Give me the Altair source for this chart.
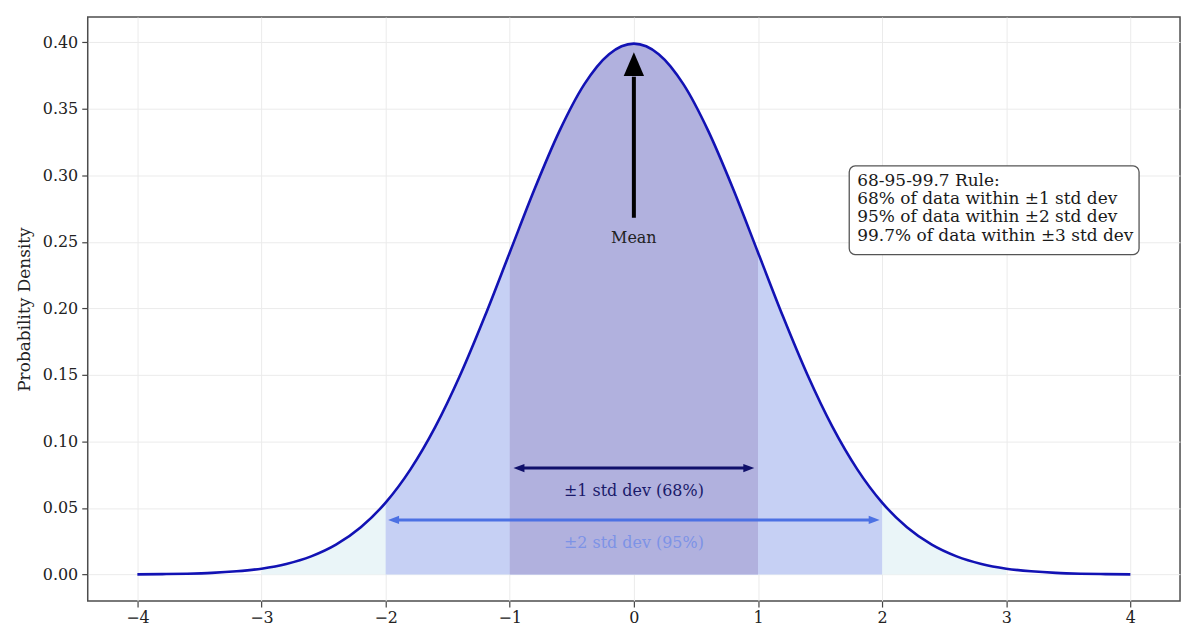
import altair as alt
import pandas as pd

# ---- data ----
x_vals = [round(-4 + 0.2 * i, 1) for i in range(41)]
density = [0.0001, 0.0003, 0.0006, 0.0012, 0.0024, 0.0044, 0.0079, 0.0136, 0.0224, 0.0355,
           0.0540, 0.0790, 0.1109, 0.1497, 0.1942, 0.2420, 0.2897, 0.3332, 0.3683, 0.3910,
           0.3989,
           0.3910, 0.3683, 0.3332, 0.2897, 0.2420, 0.1942, 0.1497, 0.1109, 0.0790, 0.0540,
           0.0355, 0.0224, 0.0136, 0.0079, 0.0044, 0.0024, 0.0012, 0.0006, 0.0003, 0.0001]

band_lo = [-3, -2, -1]
band_hi = [3, 2, 1]
band_colors = ["#eaf5f8", "#c6d0f4", "#b1b1de"]

x_ticks = [-4, -3, -2, -1, 0, 1, 2, 3, 4]
y_ticks = [0.0, 0.05, 0.10, 0.15, 0.20, 0.25, 0.30, 0.35, 0.40]

arrow_labels = ["±1 std dev (68%)", "±2 std dev (95%)"]
arrow_start = [-0.97, -1.98]
arrow_end = [0.97, 1.98]
arrow_y = [0.080, 0.041]
label_y = [0.063, 0.024]
arrow_colors = ["#10106a", "#4c71e3"]
label_colors = ["#1a1a6a", "#7d93e6"]

mean_x = [0.0]
mean_tail = [0.268]
mean_tip = [0.3925]
mean_head_base = [0.374]
mean_label_y = [0.253]

box_x = [1.735, 4.07]
box_y = [0.2404, 0.307]
box_text_x = 1.80
box_lines = ["68-95-99.7 Rule:",
             "68% of data within ±1 std dev",
             "95% of data within ±2 std dev",
             "99.7% of data within ±3 std dev"]
box_line_y = [0.2959, 0.2824, 0.2689, 0.2547]

FONT = "DejaVu Serif"

curve = pd.DataFrame({"x": x_vals, "y": density})

xscale = alt.Scale(domain=[-4.4, 4.4], nice=False, zero=False)
yscale = alt.Scale(domain=[-0.01995, 0.41889], nice=False, zero=False)
xaxis = alt.Axis(values=x_ticks, format="d", title="Standard Deviations from the Mean",
                 grid=True, tickSize=6, labelPadding=3, titlePadding=3)
yaxis = alt.Axis(values=y_ticks, format=".2f", title="Probability Density",
                 grid=True, tickSize=6, labelPadding=4, titlePadding=9)


def X(f):
    return alt.X(f, type="quantitative", scale=xscale, axis=xaxis)


def Y(f):
    return alt.Y(f, type="quantitative", scale=yscale, axis=yaxis)


layers = []
for lo, hi, col in zip(band_lo, band_hi, band_colors):
    layers.append(
        alt.Chart(curve).mark_area(color=col, opacity=1, interpolate="monotone")
        .transform_filter(alt.FieldRangePredicate(field="x", range=[lo, hi]))
        .encode(x=X("x"), y=Y("y"), y2=alt.datum(0))
    )

layers.append(
    alt.Chart(curve).mark_line(color="#1212b4", strokeWidth=2.6, interpolate="monotone")
    .encode(x=X("x"), y=Y("y"))
)

# double-headed arrows
arr = pd.DataFrame({
    "label": arrow_labels, "x0": arrow_start, "x1": arrow_end,
    "y": arrow_y, "ly": label_y, "col": arrow_colors, "lcol": label_colors,
})
head = 0.06
arr["s0"] = arr["x0"] + head
arr["s1"] = arr["x1"] - head
arr["mid"] = 0.0

layers.append(
    alt.Chart(arr).mark_rule(strokeWidth=3)
    .encode(x=X("s0"), x2="s1", y=Y("y"), color=alt.Color("col:N", scale=None))
)
layers.append(
    alt.Chart(arr).mark_point(shape="M0,0 L2,-0.75 L2,0.75 Z", filled=True, opacity=1, size=121)
    .encode(x=X("x0"), y=Y("y"), color=alt.Color("col:N", scale=None))
)
layers.append(
    alt.Chart(arr).mark_point(shape="M0,0 L-2,-0.75 L-2,0.75 Z", filled=True, opacity=1, size=121)
    .encode(x=X("x1"), y=Y("y"), color=alt.Color("col:N", scale=None))
)
layers.append(
    alt.Chart(arr).mark_text(font=FONT, fontSize=16, baseline="middle", align="center")
    .encode(x=X("mid"), y=Y("ly"), text="label:N",
            color=alt.Color("lcol:N", scale=None))
)

# mean arrow
mean = pd.DataFrame({"x": mean_x, "tail": mean_tail, "tip": mean_tip,
                     "base": mean_head_base, "ly": mean_label_y, "t": ["Mean"]})
layers.append(
    alt.Chart(mean).mark_rule(color="black", strokeWidth=4)
    .encode(x=X("x"), y=Y("tail"), y2="base")
)
layers.append(
    alt.Chart(mean).mark_point(shape="M0,0 L-0.85,2 L0.85,2 Z", filled=True, opacity=1,
                               size=576, color="black")
    .encode(x=X("x"), y=Y("tip"))
)
layers.append(
    alt.Chart(mean).mark_text(font=FONT, fontSize=16, color="#222", baseline="middle")
    .encode(x=X("x"), y=Y("ly"), text="t:N")
)

# text box
box = pd.DataFrame({"x0": [box_x[0]], "x1": [box_x[1]], "y0": [box_y[0]], "y1": [box_y[1]]})
layers.append(
    alt.Chart(box).mark_rect(fill="white", stroke="#555555", strokeWidth=1.3, cornerRadius=6)
    .encode(x=X("x0"), x2="x1", y=Y("y0"), y2="y1")
)
lines = pd.DataFrame({"t": box_lines, "y": box_line_y, "x": [box_text_x] * len(box_lines)})
layers.append(
    alt.Chart(lines).mark_text(font=FONT, fontSize=17, color="#1a1a1a", align="left",
                               baseline="middle")
    .encode(x=X("x"), y=Y("y"), text="t:N")
)

chart = (
    alt.layer(*layers)
    .properties(width=1096, height=586, autosize=alt.AutoSizeParams(type="none"),
                padding={"left": 80, "top": 8, "right": 8, "bottom": 40},
                background="white")
    .configure_axis(labelFont=FONT, titleFont=FONT, labelFontSize=16, titleFontSize=17,
                    labelColor="#222222", titleColor="#222222", titleFontWeight="normal",
                    gridColor="#ebebeb", gridWidth=1, tickColor="#444444", tickWidth=1.2,
                    domain=False)
    .configure_view(stroke="#4d4d4d", strokeWidth=1.5)
)

chart.save("out.html", embed_options={"renderer": "svg", "actions": False})
